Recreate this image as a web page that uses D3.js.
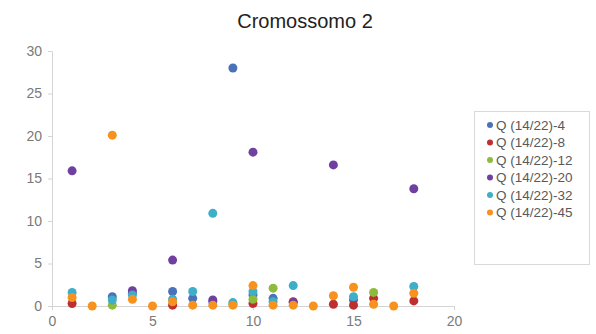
<!DOCTYPE html>
<html><head><meta charset="utf-8">
<script src="https://cdn.jsdelivr.net/npm/d3@7/dist/d3.min.js"></script>
<style>body{margin:0;background:#fff;}svg{display:block;font-family:"Liberation Sans",Arial,sans-serif;}</style>
</head><body>
<svg id="c" width="596" height="334"></svg>
<script>
const xs = [1,2,3,4,5,6,7,8,9,10,11,12,13,14,15,16,17,18];
const seriesNames = ["Q (14/22)-4","Q (14/22)-8","Q (14/22)-12","Q (14/22)-20","Q (14/22)-32","Q (14/22)-45"];
const q4  = [null,null,1.1,1.5,null,1.7,0.9,0.5,28,1.3,0.9,null,null,null,0.7,null,null,null];
const q8  = [0.3,null,null,null,null,0.1,null,null,null,0.3,null,0.5,null,0.2,0.1,0.9,null,0.6];
const q12 = [null,null,0.1,null,null,null,null,null,0.2,0.8,2.1,null,null,null,null,1.6,null,null];
const q20 = [15.9,null,null,1.8,null,5.4,null,0.7,null,18.1,null,0.4,null,16.6,null,null,null,13.8];
const q32 = [1.6,null,0.7,1.3,null,0.8,1.7,10.9,0.4,1.7,0.5,2.4,null,null,1.1,null,null,2.3];
const q45 = [1.0,0,20.1,0.8,0,0.5,0.1,0.1,0.1,2.4,0.1,0.1,0,1.2,2.2,0.2,0,1.5];
const xTicks = [0,5,10,15,20];
const yTicks = [0,5,10,15,20,25,30];
const colors = ["#4A72B8","#BE2F2F","#8EBB3C","#7040A0","#3EAFC8","#F7921E"];
const allSeries = [q4,q8,q12,q20,q32,q45];

const svg = d3.select("#c");
const x = d3.scaleLinear().domain([0,20]).range([52,454]);
const y = d3.scaleLinear().domain([0,30]).range([306,51]);

svg.append("text").attr("x",305).attr("y",28).attr("text-anchor","middle")
  .attr("font-size",20).attr("fill","#222").text("Cromossomo 2");

const gx = svg.append("g").attr("transform","translate(0,306)")
  .call(d3.axisBottom(x).tickValues(xTicks).tickSize(4).tickPadding(6));
const gy = svg.append("g").attr("transform","translate(52,0)")
  .call(d3.axisLeft(y).tickValues(yTicks).tickSize(4).tickPadding(6));
[gx,gy].forEach(g=>{
  g.select(".domain").attr("stroke","#d4d4d4");
  g.selectAll(".tick line").attr("stroke","#d4d4d4");
  g.selectAll(".tick text").attr("fill","#7a7a7a").attr("font-size",14)
   .attr("font-family","Liberation Sans, Arial, sans-serif");
});

allSeries.forEach((vals,si)=>{
  const pts = xs.map((xv,i)=>({x:xv,y:vals[i]})).filter(d=>d.y!==null);
  svg.append("g").selectAll("circle").data(pts).join("circle")
    .attr("cx",d=>x(d.x)).attr("cy",d=>y(d.y)).attr("r",4.5)
    .attr("fill",colors[si]);
});

const lg = svg.append("g");
lg.append("rect").attr("x",474.5).attr("y",111.5).attr("width",115).attr("height",153)
  .attr("fill","#fff").attr("stroke","#d9d9d9");
seriesNames.forEach((n,i)=>{
  const yy = 125 + i*17.5;
  lg.append("circle").attr("cx",490).attr("cy",yy).attr("r",3).attr("fill",colors[i]);
  lg.append("text").attr("x",496).attr("y",yy+4.5).attr("font-size",13.5).attr("fill","#595959").text(n);
});
</script>
</body></html>
